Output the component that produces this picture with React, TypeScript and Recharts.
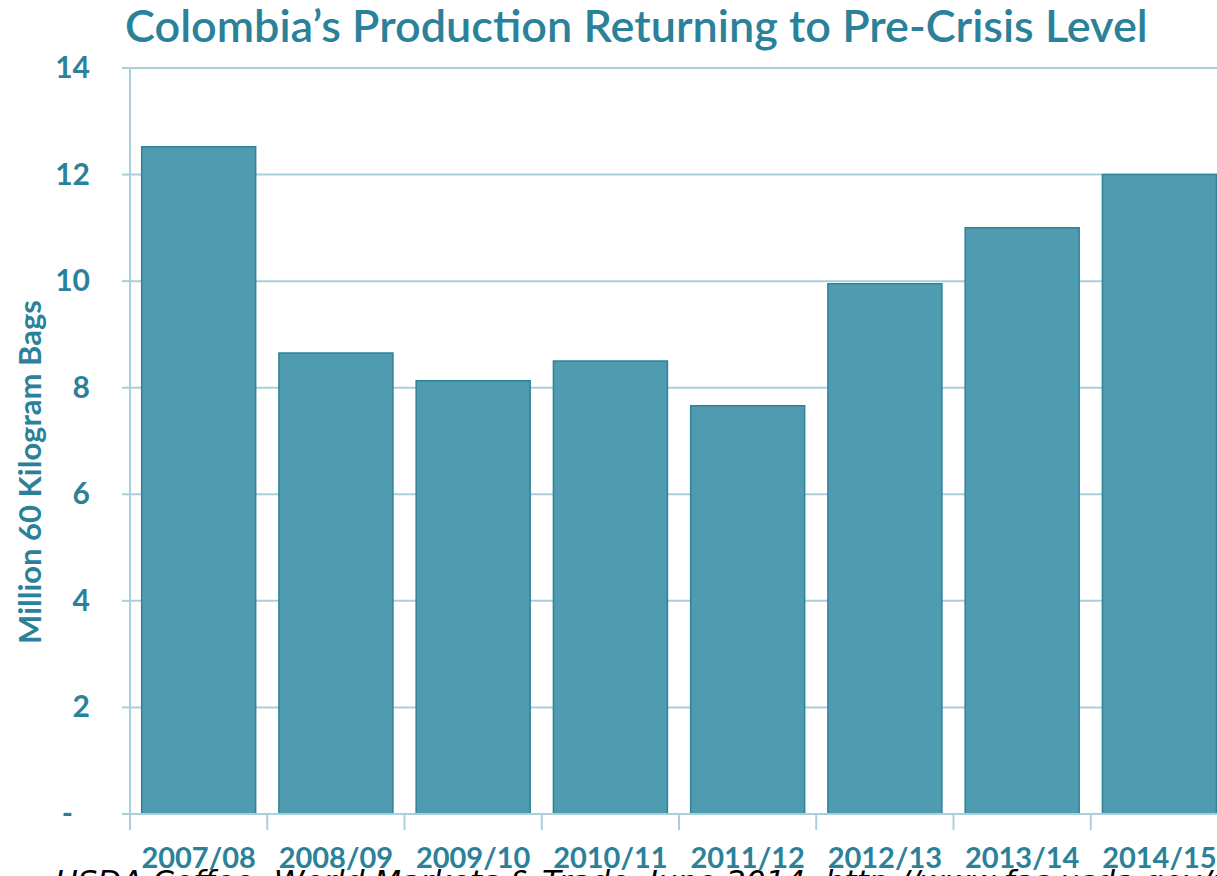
import { BarChart, Bar, XAxis, YAxis, CartesianGrid } from "recharts";

/* ─── Data ─── */

const seasons = [
  "2007/08",
  "2008/09",
  "2009/10",
  "2010/11",
  "2011/12",
  "2012/13",
  "2013/14",
  "2014/15",
];

// million 60 kg bags
const production = [12.52, 8.65, 8.13, 8.5, 7.66, 9.95, 11.0, 12.0];

const yTicks = [0, 2, 4, 6, 8, 10, 12, 14];

const data = seasons.map((season, i) => ({ season, production: production[i] }));

/* ─── Layout / style ─── */

const CHART_W = 1240;
const CHART_H = 876;
const MARGIN = { top: 68, right: 12, left: 0, bottom: 0 };
const Y_AXIS_W = 130;
const X_AXIS_H = 62;
const BAND = (CHART_W - MARGIN.left - MARGIN.right - Y_AXIS_W) / seasons.length;

const TEAL_TEXT = "#2b8199";
const BAR_FILL = "#4f9bb0";
const BAR_STROKE = "#2f8298";
const GRID = "#a9d0da";
const FONT = "Lato, 'Open Sans', sans-serif";

function YTick({ x, y, payload }: any) {
  const zero = payload.value === 0;
  return (
    <text
      x={zero ? x - 17 : x}
      y={y}
      dy={10}
      textAnchor="end"
      fill={TEAL_TEXT}
      fontSize={30}
      fontWeight={700}
      fontFamily={FONT}
    >
      {zero ? "-" : payload.value}
    </text>
  );
}

function XTick({ x, y, payload, index }: any) {
  const left = x - BAND / 2;
  const axisY = y - 33;
  return (
    <g>
      <line x1={left} x2={left} y1={axisY} y2={axisY + 16} stroke={GRID} strokeWidth={2} />
      {index === seasons.length - 1 && (
        <line x1={left + BAND} x2={left + BAND} y1={axisY} y2={axisY + 16} stroke={GRID} strokeWidth={2} />
      )}
      <text
        x={x}
        y={y}
        dy={21}
        textAnchor="middle"
        fill={TEAL_TEXT}
        fontSize={29}
        fontWeight={700}
        fontFamily={FONT}
      >
        {payload.value}
      </text>
    </g>
  );
}

export default function App() {
  return (
    <div
      style={{
        position: "fixed",
        left: 0,
        top: 0,
        width: 1217,
        height: 876,
        overflow: "hidden",
        background: "#fff",
      }}
    >
      {/* Título */}
      <div
        style={{
          position: "absolute",
          left: 125,
          top: 2,
          fontFamily: FONT,
          fontSize: 45,
          fontWeight: 600,
          lineHeight: "46px",
          color: TEAL_TEXT,
          whiteSpace: "nowrap",
        }}
      >
        Colombia’s Production Returning to Pre-Crisis Level
      </div>

      <div style={{ position: "absolute", left: 0, top: 0 }}>
        <BarChart
          width={CHART_W}
          height={CHART_H}
          data={data}
          margin={MARGIN}
          barCategoryGap="8.5%"
        >
          <CartesianGrid vertical={false} stroke={GRID} strokeWidth={2} />
          <XAxis
            dataKey="season"
            height={X_AXIS_H}
            axisLine={{ stroke: GRID, strokeWidth: 2 }}
            tickLine={false}
            tickSize={0}
            tickMargin={33}
            interval={0}
            tick={<XTick />}
          />
          <YAxis
            width={Y_AXIS_W}
            domain={[0, 14]}
            ticks={yTicks}
            interval={0}
            axisLine={{ stroke: GRID, strokeWidth: 2 }}
            tickLine={{ stroke: GRID, strokeWidth: 2 }}
            tickSize={8}
            tickMargin={32}
            tick={<YTick />}
            label={{
              content: () => (
                <text
                  transform="translate(29,472) rotate(-90)"
                  textAnchor="middle"
                  dominantBaseline="central"
                  fill={TEAL_TEXT}
                  fontSize={31}
                  fontWeight={700}
                  fontFamily={FONT}
                >
                  Million 60 Kilogram Bags
                </text>
              ),
            }}
          />
          <Bar
            dataKey="production"
            fill={BAR_FILL}
            stroke={BAR_STROKE}
            strokeWidth={1.5}
            isAnimationActive={false}
          />
        </BarChart>
      </div>

      {/* Fonte */}
      <div
        style={{
          position: "absolute",
          left: 55,
          top: 866,
          fontFamily: "'DejaVu Sans', sans-serif",
          fontStyle: "italic",
          fontSize: 31,
          lineHeight: 1,
          color: "#000",
          whiteSpace: "nowrap",
        }}
      >
        USDA Coffee: World Markets &amp; Trade, June 2014. http://www.fas.usda.gov/psdonline/circulars/coffee.pdf
      </div>
    </div>
  );
}
